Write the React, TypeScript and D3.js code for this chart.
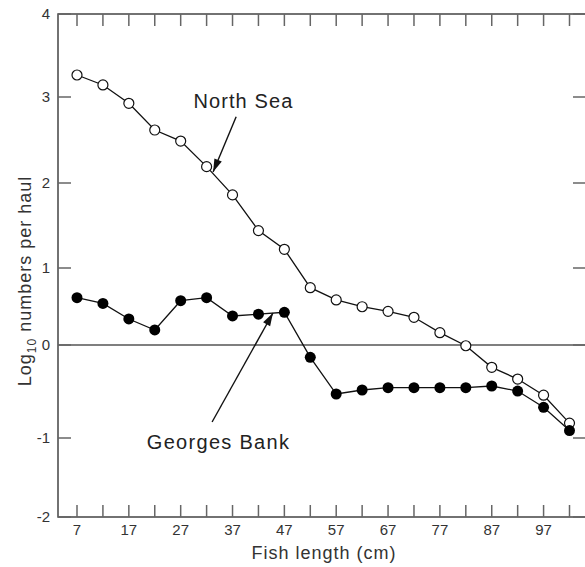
import React from 'react'
import * as d3 from 'd3'

// fish length classes (cm)
const lengths = [7, 12, 17, 22, 27, 32, 37, 42, 47, 52, 57, 62, 67, 72, 77, 82, 87, 92, 97, 102]
const northSea = [3.265, 3.145, 2.927, 2.616, 2.488, 2.19, 1.86, 1.44, 1.22, 0.744, 0.585, 0.497, 0.437, 0.36, 0.16, -0.008, -0.24, -0.366, -0.54, -0.84]
const georgesBank = [0.614, 0.54, 0.338, 0.195, 0.575, 0.614, 0.377, 0.4, 0.425, -0.132, -0.527, -0.484, -0.459, -0.459, -0.459, -0.459, -0.441, -0.495, -0.67, -0.92]
const xLabelTicks = [7, 17, 27, 37, 47, 57, 67, 77, 87, 97]
const yTicks = [-2, -1, 0, 1, 2, 3, 4]

const FONT = "'Liberation Sans', Arial, Helvetica, sans-serif"

function arrowHead(x1, y1, x2, y2, len = 13, half = 4) {
  const a = Math.atan2(y2 - y1, x2 - x1)
  const bx = x2 - len * Math.cos(a)
  const by = y2 - len * Math.sin(a)
  const px = -Math.sin(a) * half
  const py = Math.cos(a) * half
  return `M${x2},${y2}L${bx + px},${by + py}L${bx - px},${by - py}Z`
}

export default function App() {
  const width = 585
  const height = 567
  const left = 58, right = 585, top = 14, bottom = 517

  const x = d3.scaleLinear().domain([7, 102]).range([77, 569.5])
  // axis of the original figure is drawn unevenly, follow its tick positions
  const y = d3.scaleLinear().domain(yTicks).range([517, 438, 345, 268, 183, 97, 14])

  const line = d3.line<number>()
    .x((d, i) => x(lengths[i]))
    .y(d => y(d))

  const xMinor = d3.range(7, 103, 5)

  const ns = { tx: 39.1, ty: 2.876, x1: 37.7, y1: 2.77, x2: 33.25, y2: 2.128 }
  const gb = { tx: 34.3, ty: -1.139, x1: 33.06, y1: -0.828, x2: 44.8, y2: 0.416 }

  return (
    <svg width={width} height={height} style={{ position: 'absolute', left: 0, top: 0, background: '#fff' }}>
      {/* frame */}
      <path d={`M${right},${top}H${left}V${bottom}H${right}`} fill="none" stroke="#444" strokeWidth={1.5} />
      {/* zero line */}
      <line x1={left} x2={right} y1={y(0)} y2={y(0)} stroke="#555" strokeWidth={1.3} />

      {/* x ticks top and bottom */}
      {xMinor.map(v => (
        <g key={'xt' + v} stroke="#666" strokeWidth={1.5}>
          <line x1={x(v)} x2={x(v)} y1={bottom} y2={bottom - 12} />
          <line x1={x(v)} x2={x(v)} y1={top} y2={top + 12} />
        </g>
      ))}
      {xLabelTicks.map(v => (
        <text key={'xl' + v} x={x(v)} y={535} textAnchor="middle" fontFamily={FONT} fontSize={15} fill="#333">{v}</text>
      ))}

      {/* y ticks left and right */}
      {yTicks.map(v => (
        <g key={'yt' + v} stroke="#666" strokeWidth={1.5}>
          <line x1={left} x2={left + 13} y1={y(v)} y2={y(v)} />
          <line x1={right} x2={right - 12} y1={y(v)} y2={y(v)} />
        </g>
      ))}
      {yTicks.map(v => (
        <text key={'yl' + v} x={50} y={y(v)} dy="0.35em" textAnchor="end" fontFamily={FONT} fontSize={15} fill="#333">{v}</text>
      ))}

      {/* axis titles */}
      <text x={324} y={559} textAnchor="middle" fontFamily={FONT} fontSize={18} letterSpacing={1} fill="#333">Fish length (cm)</text>
      <text transform="translate(31,281) rotate(-90)" textAnchor="middle" fontFamily={FONT} fontSize={18} letterSpacing={1} fill="#333">
        Log<tspan fontSize={12} dy={5}>10</tspan><tspan dy={-5}> numbers per haul</tspan>
      </text>

      {/* series */}
      <path d={line(northSea)} fill="none" stroke="#111" strokeWidth={1.3} />
      <path d={line(georgesBank)} fill="none" stroke="#111" strokeWidth={1.3} />
      {northSea.map((v, i) => (
        <circle key={'ns' + i} cx={x(lengths[i])} cy={y(v)} r={5} fill="#fff" stroke="#111" strokeWidth={1.2} />
      ))}
      {georgesBank.map((v, i) => (
        <circle key={'gb' + i} cx={x(lengths[i])} cy={y(v)} r={5.5} fill="#000" />
      ))}

      {/* annotations */}
      <text x={x(ns.tx)} y={y(ns.ty)} textAnchor="middle" fontFamily={FONT} fontSize={20} letterSpacing={1.1} fill="#222">North Sea</text>
      <line x1={x(ns.x1)} y1={y(ns.y1)} x2={x(ns.x2)} y2={y(ns.y2)} stroke="#111" strokeWidth={1.4} />
      <path d={arrowHead(x(ns.x1), y(ns.y1), x(ns.x2), y(ns.y2))} fill="#111" />

      <text x={x(gb.tx)} y={y(gb.ty)} textAnchor="middle" fontFamily={FONT} fontSize={20} letterSpacing={1.3} fill="#222">Georges Bank</text>
      <line x1={x(gb.x1)} y1={y(gb.y1)} x2={x(gb.x2)} y2={y(gb.y2)} stroke="#111" strokeWidth={1.4} />
      <path d={arrowHead(x(gb.x1), y(gb.y1), x(gb.x2), y(gb.y2))} fill="#111" />
    </svg>
  )
}
